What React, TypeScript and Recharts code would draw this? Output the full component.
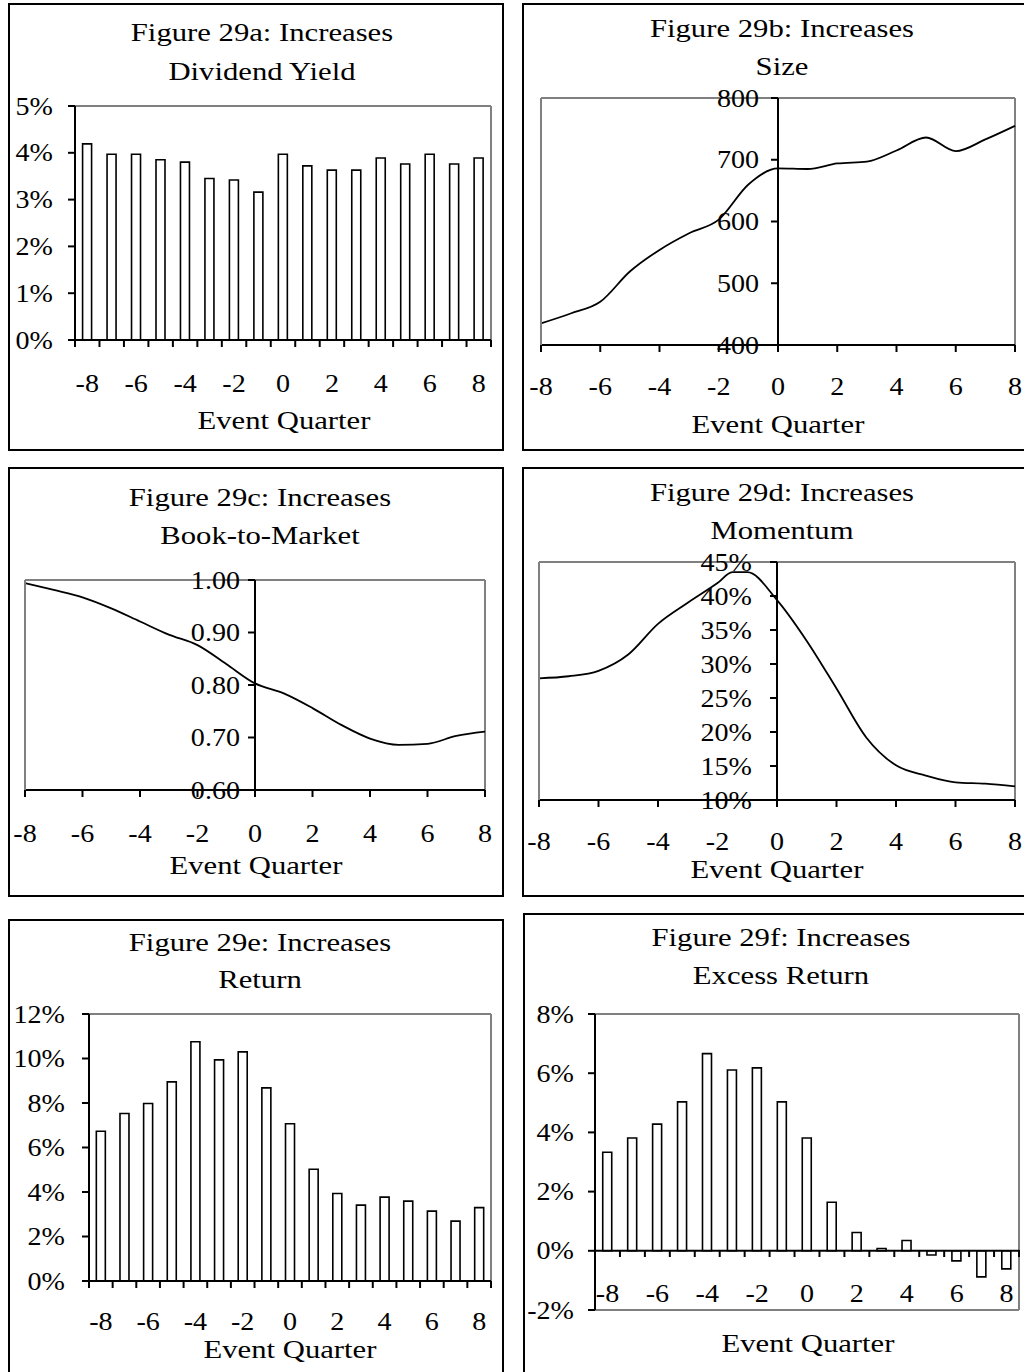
import React from 'react';
import { BarChart, Bar, LineChart, Line, XAxis, YAxis, ReferenceLine } from 'recharts';

// ---------------- DATA ----------------
const quarters = [-8, -7, -6, -5, -4, -3, -2, -1, 0, 1, 2, 3, 4, 5, 6, 7, 8];
const evenQuarters = [-8, -6, -4, -2, 0, 2, 4, 6, 8];

// Figure 29a: Dividend Yield (%)
const dividendYield = [4.19, 3.97, 3.97, 3.85, 3.8, 3.45, 3.42, 3.16, 3.97, 3.72, 3.63, 3.63, 3.89, 3.76, 3.97, 3.76, 3.89];
const dividendTicks = [0, 1, 2, 3, 4, 5];

// Figure 29b: Size
const sizeValues = [435, 451, 470, 519, 554, 581, 603, 660, 686, 685, 694, 697, 715, 736, 714, 733, 755];
const sizeTicks = [400, 500, 600, 700, 800];

// Figure 29c: Book-to-Market
const bookToMarket = [0.994, 0.981, 0.967, 0.946, 0.921, 0.896, 0.876, 0.84, 0.803, 0.784, 0.756, 0.724, 0.698, 0.686, 0.688, 0.703, 0.711];
const bmTicks = [0.6, 0.7, 0.8, 0.9, 1.0];

// Figure 29d: Momentum (%)
const momentumQuarters = [-8, -7, -6, -5, -4, -3, -2, -1.5, -1, 0, 1, 2, 3, 4, 5, 6, 7, 8];
const momentum = [27.9, 28.2, 29.0, 31.4, 35.9, 39.0, 41.9, 43.5, 43.5, 39.4, 33.4, 26.4, 19.2, 15.1, 13.6, 12.6, 12.4, 12.0];
const momentumTicks = [10, 15, 20, 25, 30, 35, 40, 45];

// Figure 29e: Return (%)
const returns = [6.73, 7.53, 7.98, 8.95, 10.75, 9.94, 10.3, 8.68, 7.07, 5.02, 3.93, 3.41, 3.77, 3.59, 3.14, 2.69, 3.3];
const returnTicks = [0, 2, 4, 6, 8, 10, 12];

// Figure 29f: Excess Return (%)
const excessReturns = [3.33, 3.81, 4.28, 5.03, 6.66, 6.11, 6.18, 5.03, 3.81, 1.64, 0.62, 0.08, 0.35, -0.14, -0.34, -0.88, -0.61];
const excessTicks = [-2, 0, 2, 4, 6, 8];

// ---------------- STYLE ----------------
const FONT = '"Liberation Serif", "Times New Roman", Times, serif';
const FS = 26;
const TICK_SX = 1.08;
const TITLE_SX = 1.18;
const GRAY = '#808080';

type Frame = { x: number; y: number; w: number; h: number };
type Plot = { l: number; t: number; r: number; b: number };

const pct = (v: number) => `${v}%`;
const AX = 1; // reserved axis size (px)

function wrapperOf(f: Frame) {
  return { x: f.x + 2, y: f.y + 2, w: f.w - 4, h: f.h - 4 };
}
function marginsOf(f: Frame, p: Plot) {
  const w = wrapperOf(f);
  return { left: p.l - w.x - AX, top: p.t - w.y, right: w.x + w.w - p.r, bottom: w.y + w.h - p.b - AX };
}

function TickText({ x, y, anchor, children }: { x: number; y: number; anchor: 'start' | 'middle' | 'end'; children: React.ReactNode }) {
  return (
    <text
      x={0}
      y={0}
      transform={`translate(${x},${y}) scale(${TICK_SX},1)`}
      textAnchor={anchor}
      dominantBaseline="central"
      fontFamily={FONT}
      fontSize={FS}
      fill="#000"
    >
      {children}
    </text>
  );
}

function makeYTick(axisX: number, labelX: number, fmt: (v: number) => string) {
  return (props: any) => {
    const { y, payload } = props;
    return (
      <g>
        <line x1={axisX - 7} x2={axisX} y1={y} y2={y} stroke="#000" strokeWidth={2} />
        <TickText x={labelX} y={y} anchor="end">
          {fmt(payload.value)}
        </TickText>
      </g>
    );
  };
}

function makeCatTick(band: number, axisY: number, labelY: number) {
  return (props: any) => {
    const { x, payload } = props;
    const v = Number(payload.value);
    return (
      <g>
        <line x1={x - band / 2} x2={x - band / 2} y1={axisY} y2={axisY + 7} stroke="#000" strokeWidth={2} />
        {v === 8 && <line x1={x + band / 2} x2={x + band / 2} y1={axisY} y2={axisY + 7} stroke="#000" strokeWidth={2} />}
        {v % 2 === 0 && (
          <TickText x={x} y={labelY} anchor="middle">
            {String(v)}
          </TickText>
        )}
      </g>
    );
  };
}

function makeNumTick(axisY: number, labelY: number) {
  return (props: any) => {
    const { x, payload } = props;
    return (
      <g>
        <line x1={x} x2={x} y1={axisY} y2={axisY + 7} stroke="#000" strokeWidth={2} />
        <TickText x={x} y={labelY} anchor="middle">
          {String(payload.value)}
        </TickText>
      </g>
    );
  };
}

function FrameBox({ f }: { f: Frame }) {
  return (
    <div
      style={{
        position: 'absolute',
        left: f.x,
        top: f.y,
        width: f.w,
        height: f.h,
        border: '2px solid #000',
        boxSizing: 'border-box',
      }}
    />
  );
}

function Label({ text, cx, cy }: { text: string; cx: number; cy: number }) {
  return (
    <div
      style={{
        position: 'absolute',
        left: cx - 250,
        width: 500,
        top: cy - FS / 2,
        height: FS,
        lineHeight: `${FS}px`,
        fontSize: FS,
        fontFamily: FONT,
        textAlign: 'center',
        whiteSpace: 'nowrap',
        color: '#000',
        transform: `scaleX(${TITLE_SX})`,
        transformOrigin: '50% 50%',
      }}
    >
      {text}
    </div>
  );
}

type BarPanelProps = {
  frame: Frame;
  plot: Plot;
  values: number[];
  domain: [number, number];
  ticks: number[];
  yLabelRight: number;
  zeroY: number;
  xLabelY: number;
};

function BarPanel({ frame, plot, values, domain, ticks, yLabelRight, zeroY, xLabelY }: BarPanelProps) {
  const w = wrapperOf(frame);
  const m = marginsOf(frame, plot);
  const data = quarters.map((q, i) => ({ q, v: values[i] }));
  const band = (plot.r - plot.l) / quarters.length;
  const axisX = plot.l - w.x;
  return (
    <div style={{ position: 'absolute', left: w.x, top: w.y }}>
      <BarChart width={w.w} height={w.h} data={data} margin={m} barCategoryGap="31%">
        <XAxis
          dataKey="q"
          interval={0}
          height={AX}
          axisLine={{ stroke: domain[0] < 0 ? GRAY : '#000', strokeWidth: 2 }}
          tickLine={false}
          tick={makeCatTick(band, zeroY - w.y, xLabelY - w.y)}
        />
        <YAxis
          type="number"
          domain={domain}
          ticks={ticks}
          interval={0}
          width={AX}
          axisLine={{ stroke: '#000', strokeWidth: 2 }}
          tickLine={false}
          tick={makeYTick(axisX, yLabelRight - w.x, pct)}
        />
        <ReferenceLine y={domain[1]} stroke={GRAY} strokeWidth={2} />
        <ReferenceLine x={8} position="end" stroke={GRAY} strokeWidth={2} />
        {domain[0] < 0 && <ReferenceLine y={0} stroke="#000" strokeWidth={2} />}
        <Bar dataKey="v" fill="#fff" stroke="#000" strokeWidth={1.6} isAnimationActive={false} />
      </BarChart>
    </div>
  );
}

type LinePanelProps = {
  frame: Frame;
  plot: Plot;
  xs: number[];
  values: number[];
  domain: [number, number];
  ticks: number[];
  yLabelRight: number;
  xLabelY: number;
  fmt: (v: number) => string;
};

function LinePanel({ frame, plot, xs, values, domain, ticks, yLabelRight, xLabelY, fmt }: LinePanelProps) {
  const w = wrapperOf(frame);
  const m = marginsOf(frame, plot);
  const data = xs.map((q, i) => ({ q, v: values[i] }));
  const zeroX = plot.l + (plot.r - plot.l) / 2;
  return (
    <div style={{ position: 'absolute', left: w.x, top: w.y }}>
      <LineChart width={w.w} height={w.h} data={data} margin={m}>
        <XAxis
          type="number"
          dataKey="q"
          domain={[-8, 8]}
          ticks={evenQuarters}
          interval={0}
          height={AX}
          axisLine={{ stroke: '#000', strokeWidth: 2 }}
          tickLine={false}
          tick={makeNumTick(plot.b - w.y, xLabelY - w.y)}
        />
        <YAxis
          type="number"
          domain={domain}
          ticks={ticks}
          interval={0}
          width={AX}
          axisLine={{ stroke: GRAY, strokeWidth: 2 }}
          tickLine={false}
          tick={makeYTick(zeroX - w.x, yLabelRight - w.x, fmt)}
        />
        <ReferenceLine y={domain[1]} stroke={GRAY} strokeWidth={2} />
        <ReferenceLine x={8} stroke={GRAY} strokeWidth={2} />
        <ReferenceLine x={0} stroke="#000" strokeWidth={2} />
        <Line dataKey="v" type="monotone" stroke="#000" strokeWidth={1.8} dot={false} isAnimationActive={false} />
      </LineChart>
    </div>
  );
}

// ---------------- LAYOUT ----------------
const fA: Frame = { x: 8, y: 3, w: 496, h: 448 };
const fB: Frame = { x: 522, y: 3, w: 520, h: 448 };
const fC: Frame = { x: 8, y: 467, w: 496, h: 430 };
const fD: Frame = { x: 522, y: 467, w: 520, h: 430 };
const fE: Frame = { x: 8, y: 919, w: 496, h: 500 };
const fF: Frame = { x: 523, y: 913, w: 520, h: 500 };

const pA: Plot = { l: 75, t: 106, r: 491, b: 340 };
const pB: Plot = { l: 541, t: 98, r: 1015, b: 345 };
const pC: Plot = { l: 25, t: 580, r: 485, b: 790 };
const pD: Plot = { l: 539, t: 562, r: 1015, b: 800 };
const pE: Plot = { l: 89, t: 1014, r: 491, b: 1281 };
const pF: Plot = { l: 595, t: 1014, r: 1019, b: 1310 };

export default function App() {
  return (
    <div
      style={{
        position: 'absolute',
        left: 0,
        top: 0,
        width: 1024,
        height: 1372,
        overflow: 'hidden',
        background: '#fff',
      }}
    >
      {[fA, fB, fC, fD, fE, fF].map((f, i) => (
        <FrameBox key={i} f={f} />
      ))}

      <BarPanel frame={fA} plot={pA} values={dividendYield} domain={[0, 5]} ticks={dividendTicks} yLabelRight={53} zeroY={340} xLabelY={383} />
      <LinePanel frame={fB} plot={pB} xs={quarters} values={sizeValues} domain={[400, 800]} ticks={sizeTicks} yLabelRight={759} xLabelY={386} fmt={(v) => String(v)} />
      <LinePanel frame={fC} plot={pC} xs={quarters} values={bookToMarket} domain={[0.6, 1.0]} ticks={bmTicks} yLabelRight={240} xLabelY={833} fmt={(v) => v.toFixed(2)} />
      <LinePanel frame={fD} plot={pD} xs={momentumQuarters} values={momentum} domain={[10, 45]} ticks={momentumTicks} yLabelRight={752} xLabelY={841} fmt={pct} />
      <BarPanel frame={fE} plot={pE} values={returns} domain={[0, 12]} ticks={returnTicks} yLabelRight={65} zeroY={1281} xLabelY={1321} />
      <BarPanel frame={fF} plot={pF} values={excessReturns} domain={[-2, 8]} ticks={excessTicks} yLabelRight={574} zeroY={1250} xLabelY={1293} />

      <Label text="Figure 29a: Increases" cx={262} cy={33} />
      <Label text="Dividend Yield" cx={262} cy={72} />
      <Label text="Event Quarter" cx={284} cy={421} />

      <Label text="Figure 29b: Increases" cx={782} cy={29} />
      <Label text="Size" cx={782} cy={67} />
      <Label text="Event Quarter" cx={778} cy={425} />

      <Label text="Figure 29c: Increases" cx={260} cy={498} />
      <Label text="Book-to-Market" cx={260} cy={536} />
      <Label text="Event Quarter" cx={256} cy={866} />

      <Label text="Figure 29d: Increases" cx={782} cy={493} />
      <Label text="Momentum" cx={782} cy={531} />
      <Label text="Event Quarter" cx={777} cy={870} />

      <Label text="Figure 29e: Increases" cx={260} cy={943} />
      <Label text="Return" cx={260} cy={980} />
      <Label text="Event Quarter" cx={290} cy={1350} />

      <Label text="Figure 29f: Increases" cx={781} cy={938} />
      <Label text="Excess Return" cx={781} cy={976} />
      <Label text="Event Quarter" cx={808} cy={1344} />
    </div>
  );
}
